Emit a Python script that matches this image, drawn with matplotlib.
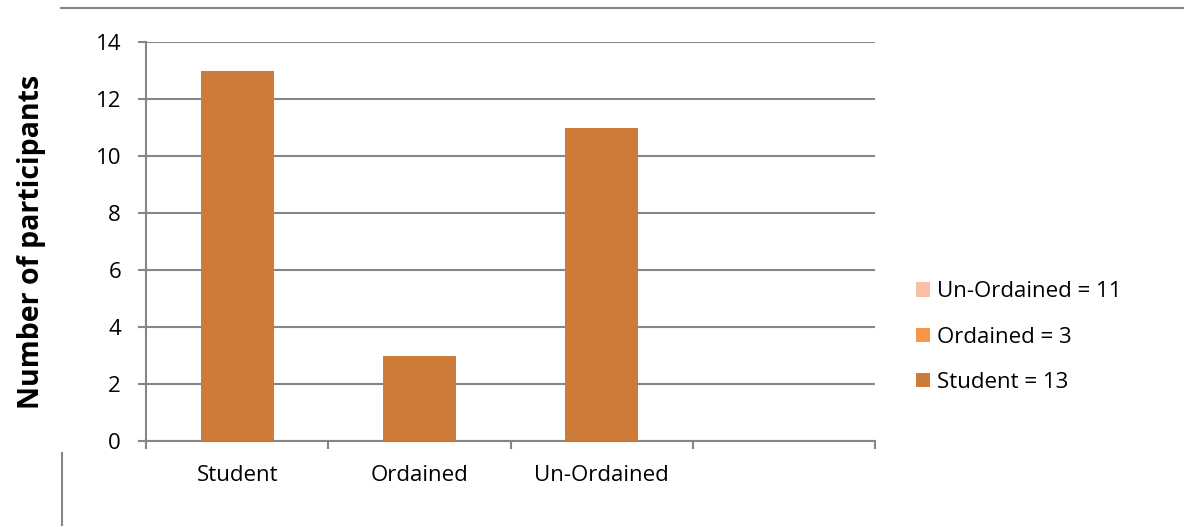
import matplotlib
matplotlib.use('Agg')
import matplotlib.pyplot as plt
from matplotlib.patches import Patch
from matplotlib.lines import Line2D
import numpy as np

plt.rcParams['font.family'] = ['Open Sans', 'DejaVu Sans']

categories = ['Student', 'Ordained', 'Un-Ordained', '']
counts = [13, 3, 11, None]
legend_labels = ['Un-Ordained = 11', 'Ordained = 3', 'Student = 13']
legend_colors = ['#F8C0A8', '#F79646', '#CD7B38']
bar_color = '#CD7B38'
grid_color = '#868686'

fig = plt.figure(figsize=(11.84, 5.27), dpi=100)
ax = fig.add_axes([146 / 1184, 1 - 441 / 527, (875 - 146) / 1184, (441 - 42) / 527])

x = np.arange(len(categories))
vals = [v if v is not None else 0 for v in counts]
ax.bar(x[:3], vals[:3], width=0.4, color=bar_color, zorder=3)

ax.set_xlim(-0.5, len(categories) - 0.5)
ax.set_ylim(0, 14)
ax.set_yticks(range(0, 15, 2))
ax.yaxis.grid(True, color=grid_color, linewidth=1.5, zorder=0)

# category labels sit between the boundary ticks
ax.set_xticks(x)
ax.set_xticklabels(categories)
ax.set_xticks(np.arange(-0.5, len(categories)), minor=True)
ax.tick_params(axis='x', which='major', length=0, pad=17, labelsize=16)
ax.tick_params(axis='x', which='minor', length=6, width=1.5, color=grid_color)
ax.tick_params(axis='y', length=6, width=1.5, color=grid_color, pad=12, labelsize=16)

for side in ['top', 'right']:
    ax.spines[side].set_visible(False)
for side in ['left', 'bottom']:
    ax.spines[side].set_color(grid_color)
    ax.spines[side].set_linewidth(1.5)

ax.set_ylabel('Number of participants', fontsize=20.5, fontweight='bold')
ax.yaxis.set_label_coords(-0.137, 0.5)

handles = [Patch(facecolor=c, edgecolor='none') for c in legend_colors]
fig.legend(handles, legend_labels, loc='center left', bbox_to_anchor=(0.757, 0.36),
           frameon=False, fontsize=16, handlelength=0.6, handleheight=0.6,
           handletextpad=0.35, labelspacing=1.1)

# page border lines around the chart
fig.add_artist(Line2D([61 / 1184, 1], [1 - 8 / 527] * 2, color=grid_color, linewidth=1.5))
fig.add_artist(Line2D([62 / 1184] * 2, [1 - 453 / 527, 1 - 525 / 527], color=grid_color, linewidth=1.5))

fig.savefig('out.png', dpi=100)
